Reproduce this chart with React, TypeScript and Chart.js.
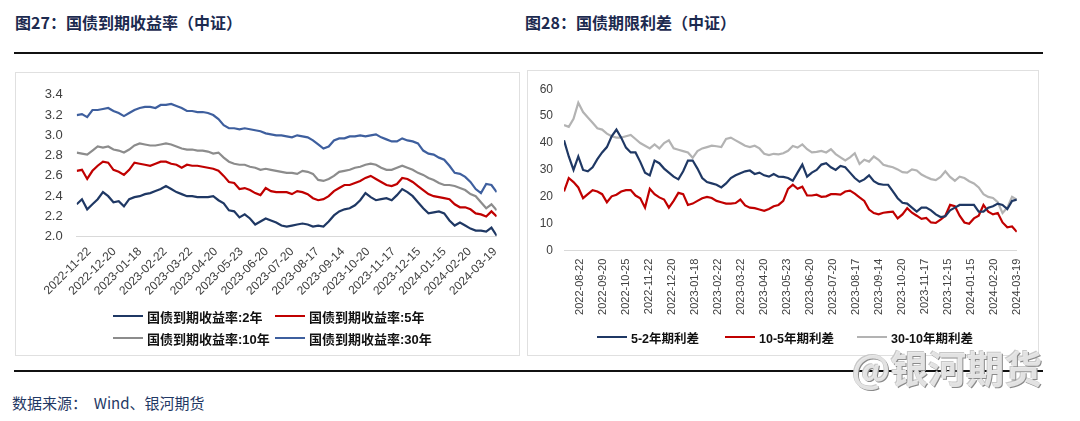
import React, { useEffect, useRef } from 'react';
import { Chart, registerables } from 'chart.js';

Chart.register(...registerables);

// ---------- Left chart: 国债到期收益率（中证） ----------
const LEFT_TICK_LABELS = [
  '2022-11-22', '2022-12-20', '2023-01-18', '2023-02-22', '2023-03-22', '2023-04-20',
  '2023-05-23', '2023-06-20', '2023-07-20', '2023-08-17', '2023-09-14', '2023-10-20',
  '2023-11-17', '2023-12-15', '2024-01-15', '2024-02-20', '2024-03-19',
];
const LEFT_FIRST_TICK = 2.35;
const LEFT_TICK_STEP = 4.834;

const YIELD_2Y = [
  2.32, 2.37, 2.27, 2.32, 2.37, 2.44, 2.40, 2.34, 2.35, 2.30,
  2.37, 2.39, 2.40, 2.42, 2.43, 2.45, 2.47, 2.50, 2.47, 2.44,
  2.42, 2.40, 2.40, 2.39, 2.39, 2.39, 2.40, 2.36, 2.33, 2.26,
  2.25, 2.19, 2.22, 2.18, 2.12, 2.15, 2.18, 2.16, 2.14, 2.11,
  2.10, 2.11, 2.12, 2.13, 2.12, 2.10, 2.11, 2.10, 2.15, 2.21,
  2.25, 2.27, 2.28, 2.31, 2.36, 2.43, 2.39, 2.36, 2.37, 2.38,
  2.36, 2.41, 2.47, 2.44, 2.40, 2.34, 2.28, 2.23, 2.24, 2.25,
  2.23, 2.16, 2.11, 2.14, 2.11, 2.08, 2.06, 2.06, 2.05, 2.09,
  2.01,
];
const YIELD_5Y = [
  2.65, 2.66, 2.57, 2.65, 2.70, 2.74, 2.73, 2.66, 2.64, 2.61,
  2.66, 2.73, 2.72, 2.71, 2.70, 2.72, 2.74, 2.74, 2.72, 2.71,
  2.68, 2.71, 2.70, 2.70, 2.69, 2.68, 2.67, 2.65, 2.60, 2.54,
  2.53, 2.47, 2.48, 2.46, 2.43, 2.41, 2.48, 2.45, 2.44, 2.44,
  2.44, 2.42, 2.45, 2.44, 2.42, 2.38, 2.36, 2.37, 2.40, 2.45,
  2.48, 2.51, 2.51, 2.53, 2.55, 2.58, 2.60, 2.57, 2.54, 2.51,
  2.50, 2.52, 2.58, 2.57, 2.54, 2.50, 2.46, 2.42, 2.40, 2.39,
  2.38, 2.37, 2.32, 2.29, 2.29, 2.27, 2.23, 2.22, 2.20, 2.25,
  2.20,
];
const YIELD_10Y = [
  2.83, 2.82, 2.81, 2.85, 2.89, 2.88, 2.89, 2.86, 2.85, 2.83,
  2.86, 2.90, 2.92, 2.91, 2.90, 2.90, 2.91, 2.92, 2.91, 2.89,
  2.87, 2.86, 2.86, 2.85, 2.85, 2.84, 2.82, 2.83, 2.78, 2.74,
  2.72, 2.71, 2.71, 2.69, 2.68, 2.66, 2.67, 2.66, 2.65, 2.64,
  2.63, 2.63, 2.62, 2.65, 2.64, 2.62, 2.56, 2.55, 2.57, 2.60,
  2.64, 2.65, 2.66, 2.68, 2.69, 2.71, 2.72, 2.71, 2.68, 2.66,
  2.66, 2.68, 2.70, 2.68, 2.66, 2.63, 2.61, 2.58, 2.56, 2.53,
  2.51, 2.51, 2.50, 2.48, 2.46, 2.42, 2.40, 2.34, 2.28, 2.32,
  2.26,
];
const YIELD_30Y = [
  3.20, 3.21, 3.18, 3.25, 3.25, 3.26, 3.27, 3.24, 3.22, 3.19,
  3.22, 3.25, 3.27, 3.28, 3.28, 3.27, 3.30, 3.30, 3.31, 3.29,
  3.27, 3.24, 3.24, 3.23, 3.23, 3.22, 3.20, 3.16, 3.10, 3.07,
  3.07, 3.06, 3.07, 3.06, 3.05, 3.04, 3.02, 3.01, 3.00, 3.00,
  2.99, 2.98, 3.00, 2.99, 2.98, 2.95, 2.91, 2.87, 2.89, 2.95,
  2.97, 2.97, 2.99, 2.99, 3.00, 2.99, 3.00, 3.01, 2.98, 2.96,
  2.94, 2.94, 2.97, 2.95, 2.94, 2.92, 2.85, 2.82, 2.81, 2.78,
  2.76, 2.70, 2.63, 2.62, 2.59, 2.54, 2.47, 2.43, 2.52, 2.51,
  2.44,
];

// ---------- Right chart: 国债期限利差（中证） ----------
const RIGHT_TICK_LABELS = [
  '2022-08-22', '2022-09-20', '2022-10-25', '2022-11-22', '2022-12-20', '2023-01-18',
  '2023-02-22', '2023-03-22', '2023-04-20', '2023-05-23', '2023-06-20', '2023-07-20',
  '2023-08-17', '2023-09-14', '2023-10-20', '2023-11-17', '2023-12-15', '2024-01-15',
  '2024-02-20', '2024-03-19',
];
const RIGHT_FIRST_TICK = 3.3;
const RIGHT_TICK_STEP = 4.826;

const SPREAD_5_2 = [
  41, 35, 30, 35, 30, 29.5, 31, 34, 36.5, 38.5,
  42.5, 45, 42, 38.3, 36.5, 36.5, 33, 29, 28, 33.5,
  32.5, 30.5, 29, 27.5, 26.5, 29.5, 33.5, 33.5, 30.5, 27,
  25.5, 25, 24.5, 23.5, 25, 27, 28, 28.8, 29.5, 29.8,
  28.5, 29, 28, 27.5, 28.5, 27.5, 27.4, 27, 26, 29,
  32, 27.5, 29, 30, 32, 32.5, 31, 30, 31.5, 31,
  29, 27, 25.6, 26.5, 28, 25.8, 24.8, 24.5, 24.5, 22,
  19.5, 17.8, 17.5, 16, 14.5, 16, 16, 15, 13.5, 12.5,
  12.8, 15, 16, 17, 17, 17, 17, 14.5, 14.5, 16,
  16.5, 17.5, 17, 15.5, 18.5, 19,
];
const SPREAD_10_5 = [
  22, 27, 25.5, 23.5, 19.5, 21, 22.5, 22, 21, 18,
  20.2, 20.8, 22, 22.5, 22.5, 20.5, 19.5, 16, 23, 21,
  19.8, 19, 16, 18.5, 21.5, 21, 17, 17.5, 18.5, 19.5,
  20, 19.6, 18.5, 18, 17.5, 17.5, 17.7, 19, 16.8, 16,
  15.8, 15.3, 14.8, 15.5, 16.5, 17, 18.5, 23, 24.5, 23,
  23.8, 20.5, 20.5, 20.8, 20, 20.2, 21, 21, 20.8, 22,
  22.3, 21.2, 19.8, 18.5, 15.3, 14, 13.5, 14.1, 14.3, 14.5,
  12, 13.5, 15.8, 14.1, 13, 11.8, 12.2, 10.5, 10.3, 11.5,
  13, 17, 16.5, 13, 10.5, 10, 12, 13, 17, 14.5,
  13.5, 14, 10.5, 8.7, 9, 7,
];
const SPREAD_30_10 = [
  46.7, 46, 49, 55, 51.5, 49.5, 47.5, 45.5, 45, 43.5,
  42.5, 42, 42, 42.5, 43, 41.5, 40, 39, 38, 39.5,
  38, 40, 41, 38, 37.5, 37, 36.5, 34.5, 37, 38,
  38.5, 39, 38.8, 38.5, 41.5, 42, 41, 40, 39, 38.5,
  39, 38, 36, 35.5, 36, 35.8, 36.2, 37.1, 38.9, 38.3,
  39.5, 37.7, 36.5, 36.7, 37.1, 36.5, 37.7, 35.9, 34.7, 33.5,
  34.7, 36.2, 32.2, 33.8, 33.1, 35, 33.8, 31.9, 31.4, 31,
  30.2, 29.2, 29, 30.2, 29.8, 28.3, 27.4, 26.6, 26.2, 27.4,
  29.5, 27.4, 26, 27.5, 27, 25.8, 25, 23.5, 21, 20,
  19.6, 18, 14, 16, 20, 19,
];

const NAVY = '#1f3864';
const RED = '#c00000';
const GRAY = '#8c8c8c';
const BLUE = '#3e5f9e';
const LIGHT_GRAY = '#b3b3b3';

const LEFT_SERIES = [
  { label: '国债到期收益率:2年', values: YIELD_2Y, color: NAVY },
  { label: '国债到期收益率:5年', values: YIELD_5Y, color: RED },
  { label: '国债到期收益率:10年', values: YIELD_10Y, color: GRAY },
  { label: '国债到期收益率:30年', values: YIELD_30Y, color: BLUE },
];
const RIGHT_SERIES = [
  { label: '5-2年期利差', values: SPREAD_5_2, color: NAVY },
  { label: '10-5年期利差', values: SPREAD_10_5, color: RED },
  { label: '30-10年期利差', values: SPREAD_30_10, color: LIGHT_GRAY },
];

const FONT = "'Liberation Sans', Arial, 'Noto Sans CJK SC', sans-serif";

type Series = { label: string; values: number[]; color: string };

function buildConfig(
  series: Series[],
  opts: {
    pad: { top: number; right: number };
    yWidth: number;
    xHeight: number;
    yMin: number;
    yMax: number;
    yStep: number;
    yDecimals: number;
    yPad: number;
    yFont: number;
    tickLabels: string[];
    firstTick: number;
    tickStep: number;
    rotation: number;
    xPad: number;
    xFont: number;
  }
): any {
  const last = series[0].values.length - 1;
  return {
    type: 'line',
    data: {
      datasets: series.map((s) => ({
        label: s.label,
        data: s.values.map((v, i) => ({ x: i, y: v })),
        borderColor: s.color,
        backgroundColor: s.color,
        borderWidth: 2.2,
        pointRadius: 0,
        tension: 0,
        fill: false,
      })),
    },
    options: {
      animation: false,
      responsive: false,
      devicePixelRatio: 1,
      layout: { padding: { top: opts.pad.top, right: opts.pad.right, bottom: 0, left: 0 } },
      plugins: { legend: { display: false }, tooltip: { enabled: false } },
      scales: {
        x: {
          type: 'linear',
          min: 0,
          max: last,
          grid: { display: false, drawTicks: false },
          border: { display: true, color: '#d9d9d9', width: 1 },
          afterBuildTicks: (scale: any) => {
            scale.ticks = opts.tickLabels.map((_, k) => ({ value: opts.firstTick + k * opts.tickStep }));
          },
          afterFit: (scale: any) => {
            scale.height = opts.xHeight;
          },
          ticks: {
            autoSkip: false,
            minRotation: opts.rotation,
            maxRotation: opts.rotation,
            padding: opts.xPad,
            color: '#404040',
            font: { family: FONT, size: opts.xFont },
            callback: (_v: any, idx: number) => opts.tickLabels[idx],
          },
        },
        y: {
          min: opts.yMin,
          max: opts.yMax,
          grid: { display: false, drawTicks: false },
          border: { display: false },
          afterFit: (scale: any) => {
            scale.width = opts.yWidth;
          },
          ticks: {
            stepSize: opts.yStep,
            padding: opts.yPad,
            color: '#404040',
            font: { family: FONT, size: opts.yFont },
            callback: (v: any) => Number(v).toFixed(opts.yDecimals),
          },
        },
      },
    },
  };
}

function ChartCanvas({ config, width, height }: { config: any; width: number; height: number }) {
  const ref = useRef<HTMLCanvasElement | null>(null);
  useEffect(() => {
    if (!ref.current) return;
    const chart = new Chart(ref.current, config);
    return () => chart.destroy();
  }, [config]);
  return <canvas ref={ref} width={width} height={height} style={{ display: 'block', width, height }} />;
}

function LegendItem({ x, y, color, text, size }: { x: number; y: number; color: string; text: string; size: number }) {
  return (
    <div style={{ position: 'absolute', left: x, top: y - 10, height: 20, display: 'flex', alignItems: 'center', whiteSpace: 'nowrap' }}>
      <div style={{ width: 30, height: 2.5, background: color, marginRight: 4 }} />
      <span style={{ fontFamily: FONT, fontWeight: 700, fontSize: size, color: '#111' }}>{text}</span>
    </div>
  );
}

const leftConfig = buildConfig(LEFT_SERIES, {
  pad: { top: 13.7, right: 22.3 },
  yWidth: 60.7,
  xHeight: 118.3,
  yMin: 2.0,
  yMax: 3.4,
  yStep: 0.2,
  yDecimals: 1,
  yPad: 14,
  yFont: 13,
  tickLabels: LEFT_TICK_LABELS,
  firstTick: LEFT_FIRST_TICK,
  tickStep: LEFT_TICK_STEP,
  rotation: 45,
  xPad: 8,
  xFont: 12,
});

const rightConfig = buildConfig(RIGHT_SERIES, {
  pad: { top: 14, right: 15.3 },
  yWidth: 36,
  xHeight: 104.3,
  yMin: 0,
  yMax: 60,
  yStep: 10,
  yDecimals: 0,
  yPad: 11,
  yFont: 12,
  tickLabels: RIGHT_TICK_LABELS,
  firstTick: RIGHT_FIRST_TICK,
  tickStep: RIGHT_TICK_STEP,
  rotation: 90,
  xPad: 8,
  xFont: 11,
});

export default function App() {
  const titleStyle: React.CSSProperties = {
    position: 'absolute',
    top: 11,
    fontFamily: "'Noto Sans CJK SC', sans-serif",
    fontWeight: 700,
    fontSize: 16,
    lineHeight: '22px',
    color: '#1c2a4f',
    whiteSpace: 'nowrap',
  };
  return (
    <div style={{ position: 'absolute', left: 0, top: 0, width: 1080, height: 421, background: '#fff', overflow: 'hidden' }}>
      <div style={{ ...titleStyle, left: 15 }}>图27：国债到期收益率（中证）</div>
      <div style={{ ...titleStyle, left: 525 }}>图28：国债期限利差（中证）</div>
      <div style={{ position: 'absolute', left: 14, top: 52, width: 1029, height: 1.5, background: '#111' }} />

      {/* left chart box */}
      <div style={{ position: 'absolute', left: 15, top: 72, width: 503, height: 282, border: '1px solid #e0e0e0' }}>
        <ChartCanvas config={leftConfig} width={503} height={282} />
      </div>
      <LegendItem x={113} y={316} color={NAVY} text={LEFT_SERIES[0].label} size={13} />
      <LegendItem x={275} y={316} color={RED} text={LEFT_SERIES[1].label} size={13} />
      <LegendItem x={113} y={338} color={GRAY} text={LEFT_SERIES[2].label} size={13} />
      <LegendItem x={275} y={338} color={BLUE} text={LEFT_SERIES[3].label} size={13} />

      {/* right chart box */}
      <div style={{ position: 'absolute', left: 527, top: 70, width: 510, height: 284, border: '1px solid #e0e0e0' }}>
        <ChartCanvas config={rightConfig} width={510} height={284} />
      </div>
      <LegendItem x={597} y={337} color={NAVY} text={RIGHT_SERIES[0].label} size={12.5} />
      <LegendItem x={725} y={337} color={RED} text={RIGHT_SERIES[1].label} size={12.5} />
      <LegendItem x={857} y={337} color={LIGHT_GRAY} text={RIGHT_SERIES[2].label} size={12.5} />

      <div style={{ position: 'absolute', left: 14, top: 370, width: 1029, height: 1.5, background: '#111' }} />
      <div
        style={{
          position: 'absolute',
          left: 852,
          top: 344,
          fontFamily: "'Noto Sans CJK SC', sans-serif",
          fontWeight: 700,
          fontSize: 38,
          lineHeight: '46px',
          color: 'rgba(235,235,235,0.9)',
          textShadow: '1px 1px 0 #8a8a8a, -1px -1px 0 #c8c8c8',
          whiteSpace: 'nowrap',
        }}
      >
        @银河期货
      </div>
      <div
        style={{
          position: 'absolute',
          left: 12,
          top: 393,
          fontFamily: "'Noto Sans CJK SC', sans-serif",
          fontSize: 15,
          lineHeight: '20px',
          color: '#1f3864',
          whiteSpace: 'pre',
        }}
      >
        {'数据来源：  Wind、银河期货'}
      </div>
    </div>
  );
}
